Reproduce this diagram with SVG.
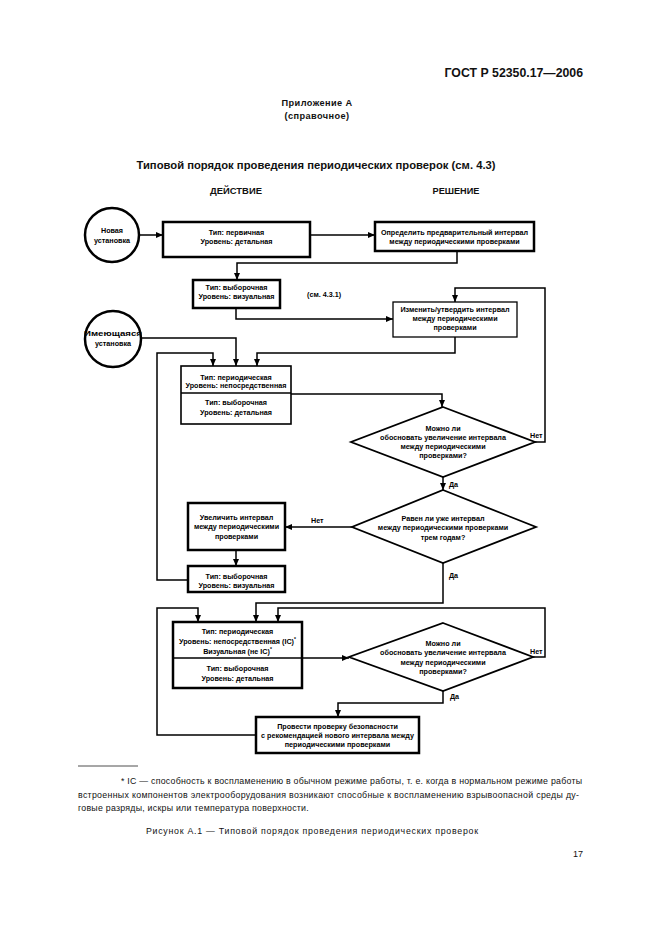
<svg xmlns="http://www.w3.org/2000/svg" width="661" height="936" viewBox="0 0 661 936">
<style>
.pg{font-family:"Liberation Sans",Arial,sans-serif;fill:#111}
.b{font-weight:bold}
.t{font-family:"Liberation Sans",Arial,sans-serif;font-weight:bold;font-size:7.2px;text-anchor:middle;fill:#000}
.lbl{font-family:"Liberation Sans",Arial,sans-serif;font-weight:bold;font-size:7.2px;fill:#000}
.box{fill:#fff;stroke:#000;stroke-width:2.5}
.box2{fill:#fff;stroke:#000;stroke-width:1.6}
.box3{fill:#fff;stroke:#000;stroke-width:1.3}
.dia{fill:#fff;stroke:#000;stroke-width:1.8}
.circ{fill:#fff;stroke:#000;stroke-width:2.5}
.sep{stroke:#000;stroke-width:1.3}
.c{fill:none;stroke:#000;stroke-width:1.5;marker-end:url(#ah)}
</style>
<defs>
<marker id="ah" markerUnits="userSpaceOnUse" markerWidth="7" markerHeight="6" refX="7" refY="3" orient="auto">
<path d="M0,0 L7,3 L0,6 z" fill="#000"/>
</marker>
</defs>
<rect width="661" height="936" fill="#fff"/>

<!-- page texts -->
<text class="pg b" x="583" y="77" font-size="12.3" text-anchor="end">ГОСТ Р 52350.17—2006</text>
<text class="pg b" x="317" y="106" font-size="9.2" text-anchor="middle" letter-spacing="0.4">Приложение А</text>
<text class="pg b" x="317" y="119" font-size="9.2" text-anchor="middle" letter-spacing="0.4">(справочное)</text>
<text class="pg b" x="316" y="169" font-size="10.8" text-anchor="middle" textLength="359" lengthAdjust="spacingAndGlyphs">Типовой порядок проведения периодических проверок (см. 4.3)</text>
<text class="pg b" x="236" y="194" font-size="9" text-anchor="middle" textLength="52" lengthAdjust="spacingAndGlyphs">ДЕЙСТВИЕ</text>
<text class="pg b" x="456" y="194" font-size="9" text-anchor="middle" textLength="47" lengthAdjust="spacingAndGlyphs">РЕШЕНИЕ</text>

<!-- connectors -->
<g id="connectors">
<path class="c" d="M140,235 L163,235"/>
<path class="c" d="M310,235 L375,235"/>
<path class="c" d="M457,251 L457,263 L237,263 L237,280"/>
<path class="c" d="M236,308 L236,319 L393,319"/>
<path class="c" d="M141,338 L236,338 L236,366"/>
<path class="c" d="M188,580 L157,580 L157,353 L213,353 L213,366"/>
<path class="c" d="M455,337 L455,353 L257,353 L257,366"/>
<path class="c" d="M291,394 L442,394 L442,407"/>
<path class="c" d="M535,442 L545,442 L545,288 L455,288 L455,302"/>
<path class="c" d="M443,477 L443,490"/>
<path class="c" d="M352,527 L285,527"/>
<path class="c" d="M236,550 L236,566"/>
<path class="c" d="M443,562 L443,603 L256,603 L256,622"/>
<path class="c" d="M533,657 L545,657 L545,608 L278,608 L278,622"/>
<path class="c" d="M256,735 L157,735 L157,608 L198,608 L198,622"/>
<path class="c" d="M302,658 L349,658"/>
<path class="c" d="M443,691 L443,703 L338,703 L338,717"/>
<text class="lbl" x="530" y="438">Нет</text>
<text class="lbl" x="449" y="487">Да</text>
<text class="lbl" x="311" y="523">Нет</text>
<text class="lbl" x="449" y="578">Да</text>
<text class="lbl" x="530" y="654">Нет</text>
<text class="lbl" x="450" y="699">Да</text>
</g>

<g id="new-install">
<circle class="circ" cx="112" cy="235" r="27"/>
<text class="t" x="112" y="233">Новая</text>
<text class="t" x="112" y="242.5">установка</text>
</g>

<g id="existing-install">
<circle class="circ" cx="113" cy="339" r="28"/>
<text class="t" x="113" y="336" textLength="58" lengthAdjust="spacingAndGlyphs">Имеющаяся</text>
<text class="t" x="113" y="345.5">установка</text>
</g>

<g id="primary">
<rect class="box" x="163" y="222" width="147" height="35"/>
<text class="t" x="236.5" y="234.5">Тип: первичная</text>
<text class="t" x="236.5" y="243.5">Уровень: детальная</text>
</g>

<g id="define-interval">
<rect class="box" x="375" y="222" width="159" height="29"/>
<text class="t" x="454.5" y="234.5">Определить предварительный интервал</text>
<text class="t" x="454.5" y="244">между периодическими проверками</text>
</g>

<g id="sample-visual-1">
<rect class="box" x="193" y="280" width="87" height="28"/>
<text class="t" x="236.5" y="290">Тип: выборочная</text>
<text class="t" x="236.5" y="299">Уровень: визуальная</text>
</g>

<text class="lbl" x="307" y="297">(см. 4.3.1)</text>

<g id="change-interval">
<rect class="box3" x="393" y="302" width="124" height="35"/>
<text class="t" x="455" y="312">Изменить/утвердить интервал</text>
<text class="t" x="455" y="321">между периодическими</text>
<text class="t" x="455" y="330">проверками</text>
</g>

<g id="periodic-1">
<rect class="box2" x="181" y="366" width="110" height="58"/>
<line class="sep" x1="181" y1="393" x2="291" y2="393"/>
<text class="t" x="236" y="379.5">Тип: периодическая</text>
<text class="t" x="236" y="388">Уровень: непосредственная</text>
<text class="t" x="236" y="405">Тип: выборочная</text>
<text class="t" x="236" y="414.5">Уровень: детальная</text>
</g>

<g id="decision-1">
<polygon class="dia" points="443,407 535,442 443,477 351,442"/>
<text class="t" x="443" y="430.5">Можно ли</text>
<text class="t" x="443" y="439.5">обосновать увеличение интервала</text>
<text class="t" x="443" y="448.5">между периодическими</text>
<text class="t" x="443" y="457.5">проверками?</text>
</g>

<g id="decision-2">
<polygon class="dia" points="443,490 536,527 443,563 352,527"/>
<text class="t" x="443" y="520.5">Равен ли уже интервал</text>
<text class="t" x="443" y="530">между периодическими проверками</text>
<text class="t" x="443" y="539.5">трем годам?</text>
</g>

<g id="increase-interval">
<rect class="box" x="188" y="503" width="97" height="47"/>
<text class="t" x="236.5" y="519.5">Увеличить интервал</text>
<text class="t" x="236.5" y="529">между периодическими</text>
<text class="t" x="236.5" y="538.5">проверками</text>
</g>

<g id="sample-visual-2">
<rect class="box" x="188" y="566" width="97" height="26"/>
<text class="t" x="236.5" y="578.5">Тип: выборочная</text>
<text class="t" x="236.5" y="587.5">Уровень: визуальная</text>
</g>

<g id="periodic-2">
<rect class="box" x="173" y="622" width="129" height="66"/>
<line class="sep" x1="173" y1="658" x2="302" y2="658"/>
<text class="t" x="237.5" y="634">Тип: периодическая</text>
<text class="t" x="237.5" y="644">Уровень: непосредственная (IC)<tspan font-size="5" dy="-3">*</tspan></text>
<text class="t" x="237.5" y="654">Визуальная (не IC)<tspan font-size="5" dy="-3">*</tspan></text>
<text class="t" x="237.5" y="670.5">Тип: выборочная</text>
<text class="t" x="237.5" y="680.5">Уровень: детальная</text>
</g>

<g id="decision-3">
<polygon class="dia" points="443,623 533,657 443,691 349,657"/>
<text class="t" x="443" y="645.5">Можно ли</text>
<text class="t" x="443" y="655">обосновать увеличение интервала</text>
<text class="t" x="443" y="664.5">между периодическими</text>
<text class="t" x="443" y="674">проверками?</text>
</g>

<g id="safety-check">
<rect class="box" x="256" y="717" width="163" height="36"/>
<text class="t" x="337.5" y="728.5">Провести проверку безопасности</text>
<text class="t" x="337.5" y="737.5">с рекомендацией нового интервала между</text>
<text class="t" x="337.5" y="746.5">периодическими проверками</text>
</g>

<!-- footnote -->
<line x1="78" y1="766" x2="138" y2="766" stroke="#222" stroke-width="0.8"/>
<text class="pg" x="121" y="784" font-size="8.8" textLength="461" lengthAdjust="spacing">* IC — способность к воспламенению в обычном режиме работы, т. е. когда в нормальном режиме работы</text>
<text class="pg" x="78" y="797.5" font-size="8.8" textLength="501" lengthAdjust="spacing">встроенных компонентов электрооборудования возникают способные к воспламенению взрывоопасной среды ду-</text>
<text class="pg" x="78" y="811" font-size="8.8" letter-spacing="0.25">говые разряды, искры или температура поверхности.</text>
<text class="pg" x="312" y="834" font-size="8.8" text-anchor="middle" textLength="332" lengthAdjust="spacing">Рисунок А.1 — Типовой порядок проведения периодических проверок</text>
<text class="pg" x="583" y="857" font-size="9" text-anchor="end">17</text>
</svg>
